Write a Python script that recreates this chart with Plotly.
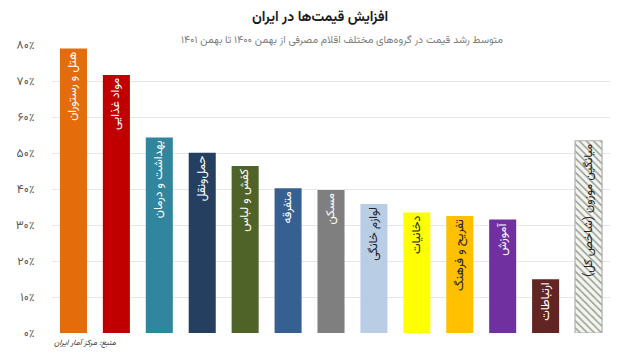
import plotly.graph_objects as go

categories = ["هتل و رستوران", "مواد غذایی", "بهداشت و درمان", "حمل‌ونقل", "کفش و لباس",
              "متفرقه", "مسکن", "لوازم خانگی", "دخانیات", "تفریح و فرهنگ", "آموزش",
              "ارتباطات", "میانگین موزون (شاخص کل)"]
values = [0.790, 0.717, 0.543, 0.501, 0.464, 0.402, 0.397, 0.358, 0.335, 0.325, 0.315, 0.149, 0.534]
bar_colors = ["#E46C0A", "#C00000", "#31859C", "#243F60", "#4F6228", "#366092", "#7F7F7F",
              "#B9CDE5", "#FFFF00", "#FFC000", "#7030A0", "#632523", "#F3F6EE"]
text_colors = ["white", "white", "white", "white", "white", "white", "white",
               "#222222", "#222222", "#222222", "white", "white", "#222222"]
tick_vals = [0, 0.1, 0.2, 0.3, 0.4, 0.5, 0.6, 0.7, 0.8]
tick_text = ["۰٪", "۱۰٪", "۲۰٪", "۳۰٪", "۴۰٪", "۵۰٪", "۶۰٪", "۷۰٪", "۸۰٪"]

title_text = "افزایش قیمت‌ها در ایران"
subtitle_text = "متوسط رشد قیمت در گروه‌های مختلف اقلام مصرفی از بهمن ۱۴۰۰ تا بهمن ۱۴۰۱"
source_text = "منبع: مرکز آمار ایران"

FONT = "Vazirmatn, Noto Sans Arabic, Noto Naskh Arabic, DejaVu Sans"

n = len(categories)
pattern_shapes = [""] * (n - 1) + ["\\"]
line_colors = bar_colors[:-1] + ["#B0B0B0"]
line_widths = [0] * (n - 1) + [1.2]

fig = go.Figure(go.Bar(
    x=list(range(n)),
    y=values,
    text=categories,
    textposition="inside",
    insidetextanchor="end",
    textangle=-90,
    constraintext="none",
    textfont=dict(color=text_colors, size=12, family=FONT),
    marker=dict(
        color=bar_colors,
        line=dict(color=line_colors, width=line_widths),
        pattern=dict(shape=pattern_shapes, fgcolor="#DDE4D2", bgcolor="#F5F7F1", size=5, solidity=0.3),
    ),
    hoverinfo="skip",
))

fig.update_layout(
    width=640, height=360,
    margin=dict(l=52, r=30, t=45, b=27),
    paper_bgcolor="white", plot_bgcolor="white",
    bargap=0.37,
    showlegend=False,
    font=dict(family=FONT, color="#404040"),
    xaxis=dict(showticklabels=False, showgrid=False, zeroline=False, range=[-0.5, n - 0.5],
               fixedrange=True),
    yaxis=dict(range=[0, 0.8], tickvals=tick_vals, ticktext=tick_text,
               showgrid=True, gridcolor="#E6E6E6", gridwidth=1, zeroline=False,
               ticks="outside", ticklen=14, tickcolor="white",
               tickfont=dict(size=12, color="#595959"), fixedrange=True),
    annotations=[
        dict(text="<b>" + title_text + "</b>", x=0.48, y=1.094, xref="paper", yref="paper",
             xanchor="center", yanchor="middle", showarrow=False,
             font=dict(size=14, color="#1a1a1a")),
        dict(text=subtitle_text, x=0.52, y=1.017, xref="paper", yref="paper",
             xanchor="center", yanchor="middle", showarrow=False,
             font=dict(size=10.5, color="#7F7F7F")),
        dict(text="<i>" + source_text + "</i>", x=0.0, y=-0.035, xref="paper", yref="paper",
             xanchor="left", yanchor="middle", showarrow=False,
             font=dict(size=8, color="#333333")),
    ],
)

fig.write_html("out.html", config={"displayModeBar": False},
               post_script="document.body.style.margin='0';")
